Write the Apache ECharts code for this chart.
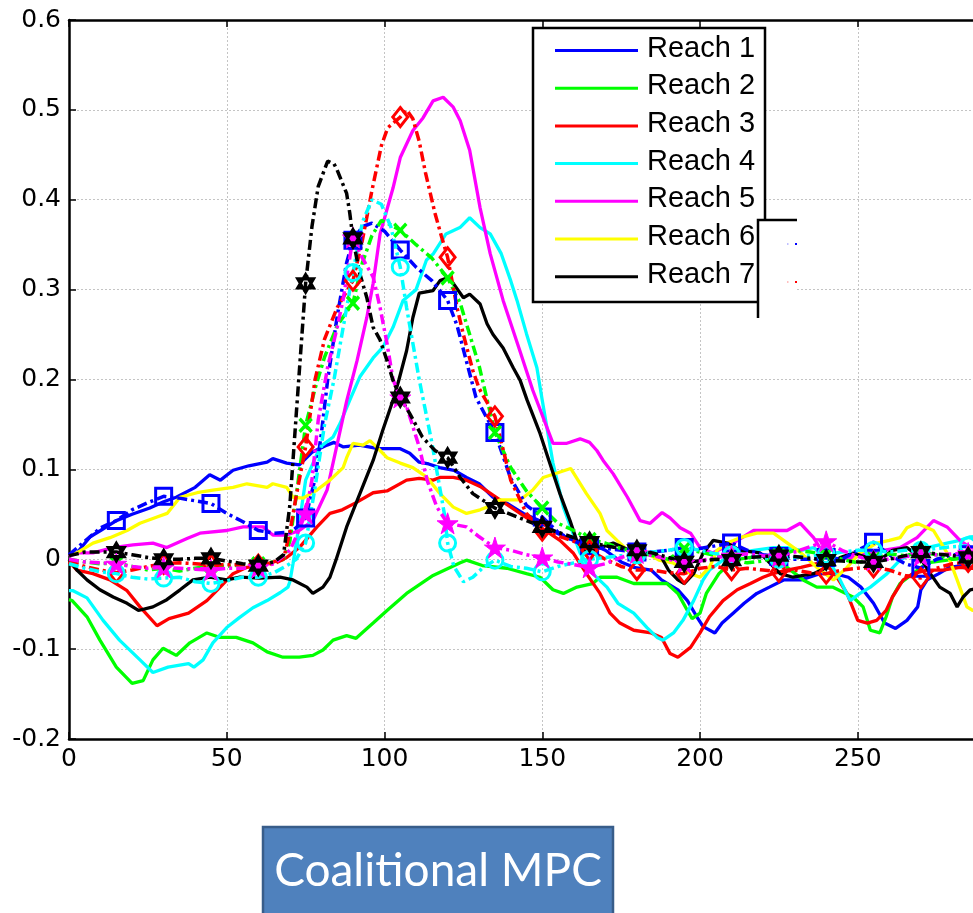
<!DOCTYPE html>
<html>
<head>
<meta charset="utf-8">
<script src="https://cdn.jsdelivr.net/npm/echarts/dist/echarts.min.js"></script>
<style>
  html, body { margin: 0; padding: 0; background: #fff; overflow: hidden; }
  #chart { width: 1100px; height: 913px; }
</style>
</head>
<body>
<div id="chart"></div>
<script>
// Axis ticks
const xTickLabels = ['0', '50', '100', '150', '200', '250', '300'];
const yTickLabels = ['-0.2', '-0.1', '0', '0.1', '0.2', '0.3', '0.4', '0.5', '0.6'];
const legendNames = ['Reach 1', 'Reach 2', 'Reach 3', 'Reach 4', 'Reach 5', 'Reach 6', 'Reach 7'];
const boxCaption = 'Coalitional MPC';

// Measured trajectories, [time step, value]
const reach1 = [[0,0.005],[2.5,0.007],[6.7,0.025],[10,0.032],[15,0.043],[20,0.05],[25.6,0.057],[30,0.064],[34,0.069],[40,0.08],[44.6,0.094],[48,0.088],[52,0.099],[57,0.104],[62.8,0.108],[64.6,0.112],[69,0.107],[73,0.105],[77,0.119],[81.8,0.127],[84,0.13],[87,0.125],[92,0.127],[98,0.123],[105,0.123],[108,0.118],[111,0.108],[114,0.106],[117.5,0.102],[122,0.099],[126,0.091],[130,0.084],[134.4,0.069],[139,0.062],[144,0.051],[149,0.043],[154.7,0.029],[160,0.021],[165,0.018],[170,0.01],[175,-0.003],[179,-0.009],[184.5,-0.012],[187.8,-0.023],[193,-0.034],[196,-0.046],[199,-0.064],[201,-0.075],[204.7,-0.082],[207,-0.071],[210.5,-0.06],[214,-0.049],[218,-0.038],[222,-0.031],[226.5,-0.023],[232,-0.023],[238,-0.016],[242.7,-0.016],[247,-0.02],[251,-0.031],[255,-0.049],[258.5,-0.071],[262,-0.077],[265.6,-0.068],[269,-0.053],[270,-0.034],[272,-0.023],[275.7,-0.016],[279,-0.009],[283,-0.007],[286,-0.009],[292,-0.01]];
const reach2 = [[0,-0.045],[1,-0.046],[5.7,-0.064],[9.8,-0.09],[15,-0.12],[20,-0.138],[23.5,-0.135],[26.6,-0.112],[29.8,-0.099],[34,-0.107],[38.3,-0.093],[43.7,-0.082],[47.9,-0.087],[53,-0.087],[58.3,-0.093],[62.8,-0.103],[67.8,-0.109],[73,-0.109],[77.3,-0.107],[80.5,-0.101],[83.7,-0.09],[88,-0.085],[91,-0.088],[93.2,-0.081],[96.4,-0.071],[100.8,-0.057],[107,-0.038],[115.4,-0.018],[124,-0.004],[126,-0.001],[131,-0.007],[138.8,-0.01],[145,-0.016],[149.3,-0.02],[153.4,-0.034],[156.7,-0.038],[161,-0.031],[166,-0.027],[168.3,-0.02],[173.7,-0.02],[179,-0.027],[184.5,-0.027],[189.5,-0.027],[193,-0.038],[196,-0.057],[197.5,-0.066],[200,-0.06],[202,-0.038],[206,-0.016],[210.5,-0.001],[216,0.002],[221,0.004],[227.6,-0.009],[232.7,-0.023],[237,-0.031],[242,-0.031],[248.5,-0.042],[251.7,-0.053],[254,-0.079],[257,-0.082],[259,-0.064],[261,-0.042],[263.4,-0.027],[267.5,-0.016],[272,-0.004],[278.3,-0.001],[284.6,0.002],[292,0.003]];
const reach3 = [[0,-0.003],[2.5,-0.012],[7.6,-0.016],[13,-0.023],[18.4,-0.035],[22.5,-0.053],[27.9,-0.074],[31.7,-0.066],[37.9,-0.06],[43.7,-0.046],[47.9,-0.031],[52,-0.016],[56.4,-0.009],[60.5,-0.007],[66.9,-0.001],[69,0.002],[73,0.013],[78.6,0.036],[82.7,0.051],[86.6,0.055],[91,0.063],[96.4,0.074],[100.8,0.076],[107,0.088],[111,0.09],[115.4,0.088],[117.6,0.091],[121.8,0.091],[126,0.088],[130.3,0.081],[136.6,0.066],[143,0.051],[149.3,0.036],[155.6,0.021],[159.8,0.007],[164,-0.016],[168.3,-0.038],[171.5,-0.06],[174.6,-0.071],[179,-0.079],[184.5,-0.082],[187.8,-0.087],[190.5,-0.105],[193,-0.109],[197,-0.098],[200,-0.082],[203,-0.064],[207.3,-0.046],[211.8,-0.034],[216,-0.027],[220,-0.02],[223,-0.016],[227.6,-0.012],[232,-0.009],[238,-0.004],[242,-0.012],[246.6,-0.038],[250,-0.068],[253,-0.071],[256,-0.068],[259,-0.057],[261,-0.042],[264.4,-0.023],[267.5,-0.016],[272,-0.012],[277,-0.012],[282.4,-0.009],[285.6,-0.01],[292,-0.01]];
const reach4 = [[0,-0.035],[1.3,-0.035],[5.7,-0.043],[10.8,-0.068],[16,-0.09],[22.5,-0.112],[26.6,-0.126],[31.4,-0.12],[37.9,-0.116],[39.6,-0.12],[42.5,-0.112],[45.6,-0.093],[50,-0.076],[54,-0.065],[58.3,-0.054],[62.8,-0.046],[67,-0.037],[69.4,-0.031],[70,-0.025],[71,-0.005],[73,0.04],[75,0.088],[79.6,0.125],[83.7,0.136],[85.9,0.151],[89,0.177],[92.2,0.203],[96.4,0.224],[99.5,0.236],[102.7,0.258],[105.9,0.288],[110,0.3],[113.3,0.333],[115.5,0.34],[119.5,0.362],[123.9,0.369],[127,0.38],[130.3,0.369],[133.5,0.362],[137,0.34],[140,0.31],[142,0.288],[145,0.251],[148.3,0.213],[150,0.177],[153.4,0.107],[156.7,0.058],[162,0.007],[166,-0.016],[170.5,-0.031],[174,-0.049],[179,-0.06],[183.2,-0.076],[186.4,-0.087],[188.3,-0.09],[191.6,-0.082],[194.6,-0.068],[198,-0.046],[201,-0.023],[203,-0.012],[207.3,-0.001],[212.7,0.007],[217,0.01],[223.3,0.013],[227.6,0.013],[232,0.01],[236,0.013],[240.3,0.002],[244.4,-0.023],[247.6,-0.046],[250.7,-0.038],[254,-0.031],[259.3,-0.016],[263.4,-0.001],[267.5,0.007],[272,0.013],[278.3,0.018],[282.4,0.021],[285.6,0.025],[292,0.026]];
const reach5 = [[0,0.003],[2.5,0.007],[7.6,0.007],[14,0.013],[20.3,0.016],[26.6,0.018],[31,0.013],[37.4,0.023],[41.5,0.029],[50,0.032],[55.2,0.036],[61.5,0.036],[64.6,0.027],[69,0.027],[73,0.032],[77.3,0.043],[81.8,0.077],[88,0.176],[91.3,0.221],[94.4,0.269],[96.4,0.307],[98.6,0.362],[102.7,0.413],[105,0.447],[109,0.477],[112.2,0.491],[115.4,0.51],[118.6,0.514],[121.8,0.503],[124,0.488],[127,0.455],[130.3,0.391],[133.5,0.34],[137.6,0.288],[142.9,0.232],[147,0.188],[153.4,0.129],[157.8,0.129],[162,0.134],[165,0.13],[167.3,0.121],[169.3,0.11],[172.5,0.095],[177,0.069],[181,0.043],[184.2,0.04],[188,0.052],[190.5,0.046],[193.7,0.035],[197,0.029],[200,0.013],[204,0.007],[210.5,0.018],[217,0.032],[221,0.032],[227.6,0.032],[231.8,0.04],[236,0.024],[239,0.007],[242.3,-0.001],[248.6,0.002],[253,0.007],[258,0.01],[263.4,0.013],[268.8,0.024],[274,0.043],[278.3,0.036],[282.4,0.021],[285.6,0.013],[292,0.01]];
const reach6 = [[0,0.005],[2.5,0.007],[7.6,0.018],[13,0.024],[18.4,0.032],[22.5,0.04],[27.9,0.047],[31.1,0.051],[35.2,0.069],[40.6,0.074],[45.6,0.077],[52,0.08],[56.4,0.084],[62.8,0.08],[64.6,0.084],[69,0.08],[71,0.069],[74.2,0.068],[78.6,0.077],[82.7,0.088],[86.9,0.102],[88,0.113],[90,0.129],[93.2,0.127],[95.4,0.132],[98.6,0.121],[100.8,0.113],[105,0.107],[109,0.102],[113.5,0.091],[117.6,0.073],[121.8,0.058],[126,0.051],[130.3,0.055],[132.5,0.058],[136.6,0.066],[143,0.066],[147,0.077],[150.3,0.091],[154.7,0.096],[159,0.101],[164,0.073],[168.3,0.051],[170.5,0.032],[173.7,0.021],[177,0.01],[183,0.007],[187,-0.001],[191.4,-0.004],[197,-0.016],[200,-0.02],[203,-0.009],[205.4,0.01],[208.6,0.018],[212.7,0.024],[218,0.029],[223.3,0.029],[226.5,0.021],[232,0.007],[237,-0.009],[242.3,-0.023],[246.6,-0.009],[250.7,0.007],[256,0.018],[260,0.021],[263.4,0.024],[265.6,0.035],[268.8,0.04],[274,0.032],[278.3,0.007],[281.5,-0.023],[284.6,-0.053],[286.5,-0.057],[292,-0.06]];
const reach7 = [[0,0],[2.5,-0.012],[5.7,-0.023],[9.8,-0.034],[14,-0.042],[18.4,-0.049],[22,-0.057],[26.6,-0.053],[31,-0.045],[35.2,-0.034],[39.3,-0.023],[44.7,-0.02],[50,-0.023],[54.2,-0.02],[60.5,-0.021],[66.9,-0.02],[71,-0.023],[75.4,-0.031],[77.3,-0.038],[80.5,-0.031],[82.7,-0.02],[84.6,-0.001],[88,0.036],[92.2,0.073],[96.4,0.11],[99.5,0.144],[102.7,0.177],[104.6,0.2],[107,0.232],[109,0.269],[111,0.296],[115.4,0.299],[117.6,0.31],[119.8,0.313],[121.8,0.307],[125,0.291],[127,0.295],[130.3,0.284],[132.5,0.262],[134.4,0.25],[137.6,0.235],[140.8,0.213],[143,0.199],[145.2,0.177],[149.3,0.14],[152,0.111],[155.6,0.073],[158.8,0.043],[161,0.02],[164,0.007],[168.3,0.013],[172.5,0.018],[175.7,0.013],[179,0.007],[184.5,0.007],[187.8,0.002],[190,-0.012],[193,-0.023],[195,-0.027],[198,-0.016],[201,0.007],[204.2,0.021],[208.6,0.018],[212.7,0.01],[219,0.007],[225.4,-0.016],[229.5,-0.02],[236,-0.016],[240.3,-0.009],[244.4,0.002],[248.6,0.007],[253,0.002],[257,-0.001],[261,0.01],[265.6,0.013],[269.8,0.002],[273,-0.016],[276,-0.031],[279.3,-0.038],[281.5,-0.053],[283.4,-0.042],[285.6,-0.034],[292,-0.03]];

// Predicted trajectories, [time step, value]
const pred1 = [[0,0.005],[5,0.02],[10,0.035],[15,0.043],[20,0.055],[25,0.063],[30,0.07],[35,0.068],[40,0.065],[45,0.062],[50,0.051],[55,0.042],[60,0.032],[65,0.029],[70,0.03],[72,0.035],[75,0.046],[78,0.09],[80,0.14],[82,0.2],[85,0.27],[88,0.33],[90,0.355],[93,0.37],[96,0.374],[100,0.365],[105,0.344],[110,0.325],[115,0.31],[120,0.288],[123,0.26],[126,0.22],[129,0.18],[132,0.16],[135,0.141],[140,0.09],[145,0.06],[150,0.047],[155,0.03],[160,0.02],[165,0.015],[170,0.012],[175,0.01],[180,0.008],[185,0.008],[190,0.01],[195,0.013],[200,0.012],[205,0.015],[210,0.018],[215,0.01],[220,0.005],[225,0.003],[230,0],[235,0],[240,0.002],[245,0],[250,0.01],[255,0.019],[260,0.005],[265,-0.005],[270,-0.01],[275,0],[280,0.005],[285,0.005],[292,0.004]];
const pred2 = [[0,0],[5,-0.003],[10,-0.005],[15,-0.004],[20,-0.008],[25,-0.012],[30,-0.01],[35,-0.013],[40,-0.01],[45,-0.007],[50,-0.008],[55,-0.006],[60,-0.005],[65,-0.003],[68,0],[70,0.02],[72,0.07],[75,0.149],[78,0.19],[81,0.225],[85,0.26],[90,0.285],[93,0.33],[96,0.36],[99,0.377],[102,0.372],[105,0.366],[110,0.35],[115,0.335],[120,0.313],[124,0.285],[127,0.25],[130,0.215],[135,0.141],[140,0.102],[145,0.076],[150,0.057],[155,0.04],[160,0.032],[165,0.022],[170,0.018],[175,0.012],[180,0.008],[185,0.004],[190,0],[195,0.012],[200,0.008],[205,0.004],[210,0],[215,-0.004],[220,-0.002],[225,0.004],[230,0.01],[235,0.008],[240,0.005],[245,0],[250,-0.004],[255,0],[260,0.006],[265,0.004],[270,0.008],[275,0.005],[280,0],[285,0.002],[292,0.002]];
const pred3 = [[0,-0.002],[5,-0.008],[10,-0.012],[15,-0.015],[20,-0.012],[25,-0.008],[30,-0.005],[35,-0.004],[40,-0.005],[45,-0.006],[50,-0.006],[55,-0.006],[60,-0.006],[65,-0.005],[68,0],[70,0.03],[72,0.07],[75,0.125],[78,0.2],[81,0.245],[85,0.28],[90,0.31],[93,0.355],[96,0.41],[99,0.46],[101,0.48],[105,0.492],[107,0.5],[109,0.49],[111,0.465],[113,0.43],[116,0.385],[118,0.36],[120,0.336],[123,0.28],[125,0.25],[128,0.21],[130,0.19],[135,0.159],[140,0.088],[145,0.051],[150,0.032],[155,0.026],[160,0.02],[165,0.01],[170,0],[175,-0.008],[180,-0.012],[185,-0.012],[190,-0.015],[195,-0.016],[200,-0.01],[205,-0.008],[210,-0.012],[215,-0.01],[220,-0.012],[225,-0.014],[230,-0.012],[235,-0.015],[240,-0.016],[245,-0.012],[250,-0.01],[255,-0.009],[260,-0.012],[265,-0.018],[270,-0.021],[275,-0.01],[280,-0.005],[285,-0.003],[292,-0.003]];
const pred4 = [[0,-0.005],[5,-0.01],[10,-0.014],[15,-0.016],[20,-0.02],[25,-0.022],[30,-0.021],[35,-0.02],[40,-0.025],[45,-0.027],[50,-0.024],[55,-0.02],[60,-0.02],[65,-0.015],[70,-0.005],[72,0],[75,0.018],[78,0.08],[81,0.15],[84,0.2],[87,0.26],[90,0.319],[93,0.375],[96,0.4],[99,0.395],[102,0.37],[105,0.325],[107,0.28],[109,0.24],[111,0.2],[113,0.165],[115,0.13],[117,0.09],[119,0.05],[120,0.018],[122,-0.008],[125,-0.025],[128,-0.02],[131,-0.01],[135,-0.001],[140,-0.008],[145,-0.01],[150,-0.014],[155,-0.008],[160,-0.004],[165,0],[170,0.002],[175,0.004],[180,0.005],[185,0.008],[190,0.01],[195,0.013],[200,0.01],[205,0.006],[210,0.005],[215,0.004],[220,0.002],[225,0],[230,0.002],[235,0.004],[240,0.005],[245,0.008],[250,0.01],[255,0.01],[260,0.008],[265,0.01],[270,0.01],[275,0.012],[280,0.014],[285,0.015],[292,0.015]];
const pred5 = [[0,0],[5,-0.003],[10,-0.004],[15,-0.005],[20,-0.008],[25,-0.01],[30,-0.009],[35,-0.01],[40,-0.011],[45,-0.012],[50,-0.01],[55,-0.01],[60,-0.009],[65,-0.005],[70,0.01],[72,0.025],[75,0.051],[77,0.088],[79,0.155],[82,0.214],[85,0.258],[87,0.291],[90,0.358],[93,0.335],[96.4,0.314],[98.6,0.28],[100.8,0.24],[102.7,0.2],[105,0.18],[107,0.17],[111,0.125],[113.5,0.088],[116.6,0.058],[120,0.04],[126,0.036],[130,0.025],[135,0.013],[140,0.01],[145,0.005],[150,0.002],[155,-0.003],[160,-0.006],[165,-0.009],[170,-0.005],[175,0.002],[180,0.007],[185,0.004],[190,0],[195,-0.004],[200,-0.002],[205,0.002],[210,0.004],[215,0.006],[220,0.004],[225,0.003],[230,0.008],[235,0.014],[240,0.02],[245,0.01],[250,0.003],[255,-0.001],[260,0],[265,0.003],[270,0.004],[275,0.005],[280,0.006],[285,0.007],[292,0.007]];
const pred7 = [[0,0.004],[5,0.008],[10,0.008],[15,0.008],[20,0.005],[25,0.002],[30,0],[35,0],[40,0.001],[45,0.001],[50,-0.002],[55,-0.005],[60,-0.007],[65,-0.003],[68,0.005],[70,0.06],[72,0.16],[75,0.307],[77,0.37],[79,0.415],[82,0.443],[84,0.44],[85,0.433],[88,0.407],[89,0.385],[90,0.357],[92,0.32],[94.4,0.291],[96.4,0.258],[98.6,0.244],[100.8,0.221],[102.7,0.199],[105,0.18],[108,0.162],[112,0.136],[116,0.121],[120,0.113],[124,0.091],[128,0.073],[135,0.057],[140,0.05],[145,0.043],[150,0.036],[155,0.03],[160,0.024],[165,0.019],[170,0.015],[175,0.012],[180,0.01],[185,0.007],[190,0.002],[195,-0.003],[200,-0.002],[205,0],[210,-0.001],[215,0.002],[220,0.003],[225,0.004],[230,0.003],[235,0.001],[240,-0.001],[245,-0.002],[250,-0.003],[255,-0.003],[260,0],[265,0.004],[270,0.008],[275,0.006],[280,0.004],[285,0.002],[292,0.002]];

const X_MIN = 0, X_MAX = 300, X_STEP = 50;
const Y_MIN = -0.2, Y_MAX = 0.6, Y_STEP = 0.1;
const MARK_EVERY = 15;

const colors = ['#0000ff', '#00ff00', '#ff0000', '#00ffff', '#ff00ff', '#ffff00', '#000000'];
const measured = [reach1, reach2, reach3, reach4, reach5, reach6, reach7];

const STAR5 = 'path://M0,-10L2.245,-3.09L9.51,-3.09L3.633,1.18L5.88,8.09L0,3.82L-5.88,8.09L-3.633,1.18L-9.51,-3.09L-2.245,-3.09Z';
const STAR6 = 'path://M0,-10L8.66,5L-8.66,5ZM0,10L8.66,-5L-8.66,-5Z';
const CROSS = 'path://M0,0L10,10M10,0L0,10';

const predicted = [
  { data: pred1, color: '#0000ff', symbol: 'rect', size: 16, fill: 'rgba(0,0,0,0)', bw: 3 },
  { data: pred2, color: '#00ff00', symbol: CROSS, size: [12, 13], fill: 'rgba(0,0,0,0)', bw: 3.5 },
  { data: pred3, color: '#ff0000', symbol: 'diamond', size: [15, 19], fill: 'rgba(0,0,0,0)', bw: 3 },
  { data: pred4, color: '#00ffff', symbol: 'circle', size: 16, fill: 'rgba(0,0,0,0)', bw: 3 },
  { data: pred5, color: '#ff00ff', symbol: STAR5, size: [21, 21], fill: '#ff00ff', bw: 1 },
  { data: pred7, color: '#000000', symbol: STAR6, size: [16, 18], fill: 'rgba(0,0,0,0)', bw: 3 }
];

const series = [];
measured.forEach((d, i) => {
  series.push({
    type: 'line', data: d, showSymbol: false, silent: true,
    lineStyle: { color: colors[i], width: 3.3 }, z: 2
  });
});
predicted.forEach((p) => {
  series.push({
    type: 'line', data: p.data, showSymbol: false, silent: true,
    lineStyle: { color: p.color, width: 3.5, type: [10, 4, 3, 4] }, z: 3
  });
});
predicted.forEach((p) => {
  series.push({
    type: 'scatter', clip: true, silent: true,
    data: p.data.filter(v => v[0] > 0 && v[0] % MARK_EVERY === 0),
    symbol: p.symbol, symbolSize: p.size,
    itemStyle: { color: p.fill, borderColor: p.color, borderWidth: p.bw, opacity: 1 },
    z: 4
  });
});

const tickFont = { fontFamily: 'DejaVu Sans', fontSize: 25, color: '#000' };
const axisLineStyle = { color: '#000', width: 2.5 };
const gridLine = { show: true, lineStyle: { color: '#c4c4c4', width: 1, type: [2, 2] } };
const tickStyle = { show: true, inside: true, length: 7, lineStyle: { color: '#000', width: 1.5 } };

// Legend and the overlapping caption box drawn as graphics
const LEG = { x: 533, y: 28, w: 232, h: 274, row0: 50.5, rowStep: 37.7, lineX1: 555, lineX2: 638, textX: 647 };
const graphics = [];
graphics.push({ type: 'rect', z: 100, shape: { x: LEG.x, y: LEG.y, width: LEG.w, height: LEG.h },
  style: { fill: '#fff', stroke: '#000', lineWidth: 2.5 } });
legendNames.forEach((name, i) => {
  const y = LEG.row0 + LEG.rowStep * i;
  graphics.push({ type: 'line', z: 101, shape: { x1: LEG.lineX1, y1: y, x2: LEG.lineX2, y2: y },
    style: { stroke: colors[i], lineWidth: 3 } });
  graphics.push({ type: 'text', z: 101, style: { x: LEG.textX, y: y - 2, text: name,
    font: '29px "Liberation Sans", Arial, sans-serif', fill: '#000', verticalAlign: 'middle', align: 'left' } });
});
// second legend peeking out underneath
graphics.push({ type: 'rect', z: 102, shape: { x: 758, y: 220, width: 39, height: 100 },
  style: { fill: '#fff', stroke: null } });
graphics.push({ type: 'polyline', z: 103, shape: { points: [[758, 318], [758, 220], [797, 220]] },
  style: { stroke: '#000', lineWidth: 2.5, fill: null } });
graphics.push({ type: 'line', z: 103, shape: { x1: 795, y1: 244, x2: 797, y2: 244 }, style: { stroke: '#0000ff', lineWidth: 2 } });
graphics.push({ type: 'line', z: 103, shape: { x1: 787, y1: 244, x2: 788.5, y2: 244 }, style: { stroke: '#8080ff', lineWidth: 1 } });
graphics.push({ type: 'line', z: 103, shape: { x1: 795, y1: 282, x2: 797, y2: 282 }, style: { stroke: '#ff0000', lineWidth: 2 } });
graphics.push({ type: 'line', z: 103, shape: { x1: 787, y1: 282, x2: 788.5, y2: 282 }, style: { stroke: '#ff8080', lineWidth: 1 } });
// caption box
graphics.push({ type: 'rect', z: 100, shape: { x: 263, y: 827, width: 350, height: 110 },
  style: { fill: '#4f81bd', stroke: '#385d8a', lineWidth: 2.5 } });
graphics.push({ type: 'text', z: 101, style: { x: 438, y: 871, text: boxCaption,
  font: '46px Lato, "Open Sans", sans-serif', fill: '#fff', align: 'center', verticalAlign: 'middle' } });

const chart = echarts.init(document.getElementById('chart'), null, { renderer: 'canvas' });
chart.setOption({
  animation: false,
  backgroundColor: '#fff',
  grid: { left: 69, top: 20, width: 946.5, height: 719 },
  xAxis: [
    { type: 'value', min: X_MIN, max: X_MAX, interval: X_STEP, position: 'bottom',
      axisLine: { onZero: false, lineStyle: axisLineStyle }, axisTick: tickStyle,
      axisLabel: Object.assign({ margin: 8, formatter: v => xTickLabels[Math.round((v - X_MIN) / X_STEP)] }, tickFont),
      splitLine: gridLine },
    { type: 'value', min: X_MIN, max: X_MAX, interval: X_STEP, position: 'top',
      axisLine: { onZero: false, lineStyle: axisLineStyle }, axisTick: tickStyle,
      axisLabel: { show: false }, splitLine: { show: false } }
  ],
  yAxis: [
    { type: 'value', min: Y_MIN, max: Y_MAX, interval: Y_STEP, position: 'left',
      axisLine: { show: true, onZero: false, lineStyle: axisLineStyle }, axisTick: tickStyle,
      axisLabel: Object.assign({ margin: 8, formatter: v => yTickLabels[Math.round((v - Y_MIN) / Y_STEP)] }, tickFont),
      splitLine: gridLine },
    { type: 'value', min: Y_MIN, max: Y_MAX, interval: Y_STEP, position: 'right',
      axisLine: { show: true, onZero: false, lineStyle: axisLineStyle }, axisTick: tickStyle,
      axisLabel: { show: false }, splitLine: { show: false } }
  ],
  series: series,
  graphic: graphics
});
</script>
</body>
</html>
